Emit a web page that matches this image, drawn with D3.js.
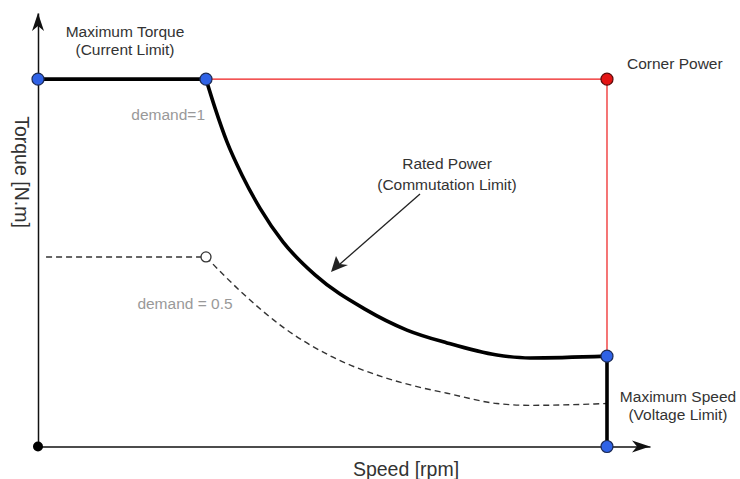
<!DOCTYPE html>
<html><head><meta charset="utf-8">
<script src="https://cdn.jsdelivr.net/npm/d3@7"></script>
<style>
html,body{margin:0;padding:0;background:#fff;}
text{font-family:"Liberation Sans",Arial,sans-serif;}
</style></head>
<body><svg id="c" width="740" height="479"></svg>
<script>
// Normalised speed (base speed = 1) and torque (max torque = 1)
const ratedSpeed = [1.0, 1.054, 1.125, 1.214, 1.321, 1.458, 1.649, 1.946, 2.196, 2.435, 2.732, 2.929, 3.387];
const ratedTorque = [1.0, 0.921, 0.829, 0.739, 0.649, 0.557, 0.467, 0.374, 0.317, 0.282, 0.249, 0.241, 0.246];
const halfSpeed = [1.0, 1.202, 1.458, 1.756, 2.054, 2.274, 2.435, 2.732, 2.929, 3.387];
const halfTorque = [0.516, 0.424, 0.325, 0.243, 0.189, 0.161, 0.145, 0.117, 0.112, 0.117];
const halfFlatStart = 0.048;
const baseSpeed = 1.0, maxSpeed = 3.387, maxTorque = 1.0, demandHalf = 0.516;
const blueDots = [[0, 1.0], [1.0, 1.0], [3.387, 0.246], [3.387, 0]];
const redDots = [[3.387, 1.0]];

const svg = d3.select("#c");
const x = d3.scaleLinear().domain([0, 3.643]).range([38, 650]);
const y = d3.scaleLinear().domain([0, 1.18]).range([446.5, 13]);

// axes (no ticks)
svg.append("g").attr("transform", `translate(0,${y(0)})`)
  .call(d3.axisBottom(x).tickValues([]).tickSizeOuter(0))
  .call(g => g.select(".domain").attr("stroke", "#111").attr("stroke-width", 1.5));
svg.append("g").attr("transform", `translate(${x(0)},0)`)
  .call(d3.axisLeft(y).tickValues([]).tickSizeOuter(0))
  .call(g => g.select(".domain").attr("stroke", "#111").attr("stroke-width", 1.5));

// arrow heads
const yt = [x(0), y(1.18)], xt = [x(3.643), y(0)];
svg.append("path").attr("fill", "#111")
  .attr("d", `M${yt[0]},${yt[1]} L${yt[0]+6},${yt[1]+18} L${yt[0]},${yt[1]+13} L${yt[0]-6},${yt[1]+18} Z`);
svg.append("path").attr("fill", "#111")
  .attr("d", `M${xt[0]},${xt[1]} L${xt[0]-18},${xt[1]-6} L${xt[0]-13},${xt[1]} L${xt[0]-18},${xt[1]+6} Z`);

// red corner-power lines
svg.append("path").attr("fill", "none").attr("stroke", "#ee1c1c").attr("stroke-width", 1.2)
  .attr("d", d3.line()([[x(baseSpeed), y(maxTorque)], [x(maxSpeed), y(maxTorque)], [x(maxSpeed), y(ratedTorque[ratedTorque.length-1])]]));

// dashed demand=0.5 curve
const line = d3.line().x(d => x(d[0])).y(d => y(d[1])).curve(d3.curveMonotoneX);
const dashed = {fill: "none", stroke: "#333", "stroke-width": 1.4, "stroke-dasharray": "6,4"};
function applyAttrs(sel, o) { for (const k in o) sel.attr(k, o[k]); return sel; }
applyAttrs(svg.append("path"), dashed)
  .attr("d", d3.line()([[x(halfFlatStart), y(demandHalf)], [x(baseSpeed), y(demandHalf)]]));
applyAttrs(svg.append("path"), dashed)
  .attr("d", line(halfSpeed.map((s, i) => [s, halfTorque[i]])));

// thick envelope
const thick = {fill: "none", stroke: "#000", "stroke-width": 3.6};
applyAttrs(svg.append("path"), thick).attr("d", d3.line()([[x(0), y(maxTorque)], [x(baseSpeed), y(maxTorque)]]));
applyAttrs(svg.append("path"), thick).attr("d", line(ratedSpeed.map((s, i) => [s, ratedTorque[i]])));
applyAttrs(svg.append("path"), thick).attr("d", d3.line()([[x(maxSpeed), y(ratedTorque[ratedTorque.length-1])], [x(maxSpeed), y(0)]]));

// annotation arrow
svg.append("line").attr("x1", 420).attr("y1", 194).attr("x2", 340).attr("y2", 264)
  .attr("stroke", "#222").attr("stroke-width", 1.3);
svg.append("path").attr("fill", "#222")
  .attr("d", "M331,272 L336,256 L340,264 L348,265 Z");

// points
svg.append("circle").attr("cx", x(0)).attr("cy", y(0)).attr("r", 5).attr("fill", "#000");
svg.append("circle").attr("cx", x(baseSpeed)).attr("cy", y(demandHalf)).attr("r", 5)
  .attr("fill", "#fff").attr("stroke", "#333").attr("stroke-width", 1.3);
svg.selectAll(".blue").data(blueDots).join("circle")
  .attr("cx", d => x(d[0])).attr("cy", d => y(d[1])).attr("r", 6)
  .attr("fill", "#2f62e6").attr("stroke", "#1b2a55").attr("stroke-width", 1.2);
svg.selectAll(".red").data(redDots).join("circle")
  .attr("cx", d => x(d[0])).attr("cy", d => y(d[1])).attr("r", 6)
  .attr("fill", "#e41414").attr("stroke", "#5a0a0a").attr("stroke-width", 1.2);

// labels
function label(txt, px, py, anchor, size, color) {
  return svg.append("text").attr("x", px).attr("y", py).attr("text-anchor", anchor)
    .attr("font-size", size).attr("fill", color).text(txt);
}
const dark = "#333", grey = "#999";
label("Maximum Torque", 125, 37, "middle", 15.5, dark);
label("(Current Limit)", 125, 55, "middle", 15.5, dark);
label("Corner Power", 627, 69, "start", 15.5, dark);
label("demand=1", 205, 120, "end", 15.5, grey);
label("Rated Power", 447, 169, "middle", 15.5, dark);
label("(Commutation Limit)", 447, 190, "middle", 15.5, dark);
label("demand = 0.5", 185, 309, "middle", 15.5, grey);
label("Maximum Speed", 678, 402, "middle", 15.5, dark);
label("(Voltage Limit)", 678, 420, "middle", 15.5, dark);
label("Speed [rpm]", 406, 476, "middle", 19.5, dark);
svg.append("text").attr("transform", "translate(15,172) rotate(90)").attr("text-anchor", "middle")
  .attr("font-size", 19.5).attr("fill", dark).text("Torque [N.m]");
</script></body></html>
